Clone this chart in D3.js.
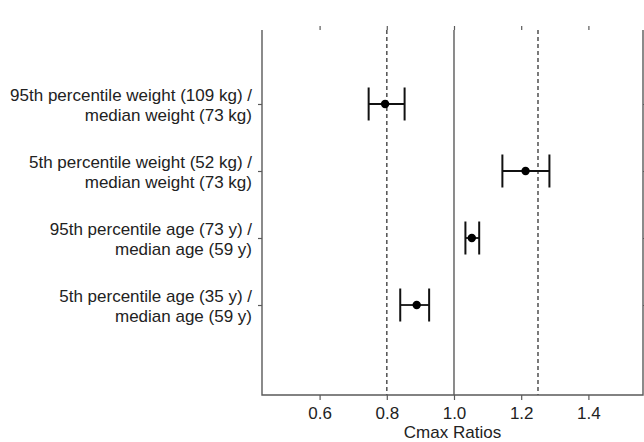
<!DOCTYPE html>
<html><head><meta charset="utf-8">
<script src="https://cdn.jsdelivr.net/npm/d3@7"></script>
<style>body{margin:0;background:#fff}svg{display:block}</style>
</head><body>
<script>
const labels = [
  ["95th percentile weight (109 kg) /", "median weight (73 kg)"],
  ["5th percentile weight (52 kg) /", "median weight (73 kg)"],
  ["95th percentile age (73 y) /", "median age (59 y)"],
  ["5th percentile age (35 y) /", "median age (59 y)"]
];
const est = [0.795, 1.213, 1.053, 0.889];
const lower = [0.746, 1.144, 1.034, 0.840];
const upper = [0.853, 1.284, 1.075, 0.926];
const xTicks = [0.6, 0.8, 1.0, 1.2, 1.4];
const dashedRefs = [0.8, 1.25];
const solidRef = [1.0];
const xTitle = "Cmax Ratios";

const W = 644, H = 442;
const L = 262, R = 643, B = 395, T = 30;
const svg = d3.select("body").append("svg").attr("width", W).attr("height", H);
const x = d3.scaleLinear().domain([0.4286, 1.5625]).range([L, R]);
const y = d3.scaleLinear().domain([-0.343, 5.343]).range([B, 14]);
const pos = i => 4 - i; // first row at top

const gray = "#5a5a5a";
const font = "'Liberation Sans', Arial, sans-serif";
const fs = 17;

// reference lines
svg.selectAll(".dref").data(dashedRefs).enter().append("line")
  .attr("x1", d => x(d)).attr("x2", d => x(d)).attr("y1", T).attr("y2", B)
  .attr("stroke", gray).attr("stroke-width", 1.6).attr("stroke-dasharray", "4,3");
svg.selectAll(".sref").data(solidRef).enter().append("line")
  .attr("x1", d => x(d)).attr("x2", d => x(d)).attr("y1", T).attr("y2", B)
  .attr("stroke", gray).attr("stroke-width", 1.4);

// frame: left, bottom, right (top open)
svg.append("path").attr("d", `M${L},${T}V${B}H${R}V${T}`)
  .attr("fill", "none").attr("stroke", gray).attr("stroke-width", 1.4);

// bottom axis
const xAxis = d3.axisBottom(x).tickValues(xTicks).tickSize(5).tickSizeOuter(0).tickFormat(d3.format(".1f"));
const gx = svg.append("g").attr("transform", `translate(0,${B})`).call(xAxis);
gx.select(".domain").remove();
gx.selectAll(".tick line").attr("stroke", gray).attr("stroke-width", 1.2);
gx.selectAll(".tick text").attr("font-family", font).attr("font-size", fs).attr("fill", "#222")
  .attr("y", 0).attr("dy", null).attr("transform", "translate(0,24)");

// top ticks
const gt = svg.append("g").attr("transform", `translate(0,${T})`)
  .call(d3.axisTop(x).tickValues(xTicks).tickSize(4).tickSizeOuter(0).tickFormat(""));
gt.select(".domain").remove();
gt.selectAll(".tick line").attr("stroke", gray).attr("stroke-width", 1.2);

// left / right ticks
const yTickVals = est.map((d, i) => pos(i));
const gl = svg.append("g").attr("transform", `translate(${L},0)`)
  .call(d3.axisLeft(y).tickValues(yTickVals).tickSize(4).tickSizeOuter(0).tickFormat(""));
gl.select(".domain").remove();
gl.selectAll(".tick line").attr("stroke", gray).attr("stroke-width", 1.2);
const gr = svg.append("g").attr("transform", `translate(${R},0)`)
  .call(d3.axisRight(y).tickValues(yTickVals).tickSize(4).tickSizeOuter(0).tickFormat(""));
gr.select(".domain").remove();
gr.selectAll(".tick line").attr("stroke", gray).attr("stroke-width", 1.2);

// category labels
labels.forEach((lines, i) => {
  const yc = y(pos(i));
  const t = svg.append("text").attr("text-anchor", "end").attr("font-family", font)
    .attr("font-size", fs).attr("fill", "#222");
  lines.forEach((ln, j) => {
    t.append("tspan").attr("x", L - 10).attr("y", yc - 3 + j * 20).text(ln);
  });
});

// error bars
const cap = 16.5;
const g = svg.append("g");
est.forEach((d, i) => {
  const yc = y(pos(i));
  g.append("line").attr("x1", x(lower[i])).attr("x2", x(upper[i])).attr("y1", yc).attr("y2", yc)
    .attr("stroke", "#111").attr("stroke-width", 1.8);
  [lower[i], upper[i]].forEach(v => {
    g.append("line").attr("x1", x(v)).attr("x2", x(v)).attr("y1", yc - cap).attr("y2", yc + cap)
      .attr("stroke", "#111").attr("stroke-width", 2);
  });
  g.append("circle").attr("cx", x(d)).attr("cy", yc).attr("r", 4.2).attr("fill", "#000");
});

// x title
svg.append("text").attr("x", (L + R) / 2).attr("y", 438).attr("text-anchor", "middle")
  .attr("font-family", font).attr("font-size", fs).attr("fill", "#222").text(xTitle);
</script>
</body></html>
